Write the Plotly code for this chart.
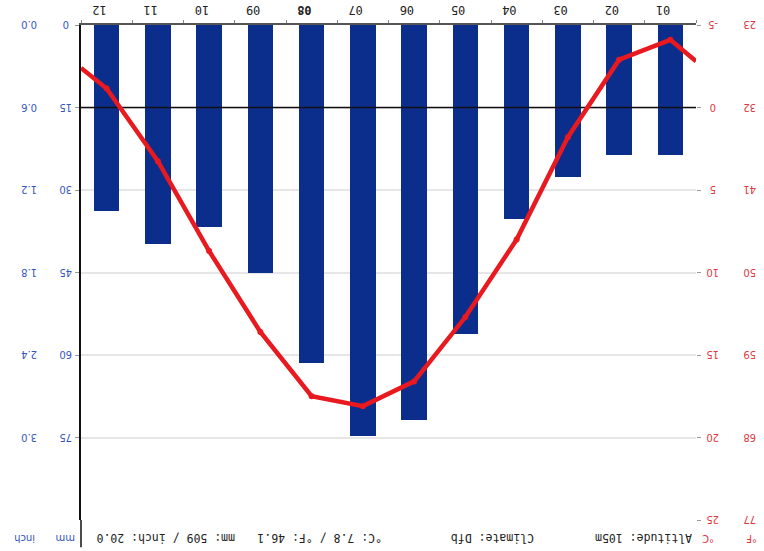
import plotly.graph_objects as go

# ---- data ----
months = ["01", "02", "03", "04", "05", "06", "07", "08", "09", "10", "11", "12"]
highlight_month = "08"
precip_mm = [23.6, 23.6, 27.7, 35.3, 56.1, 71.9, 74.8, 61.4, 45.0, 36.8, 39.8, 33.8]
temp_c = [-4.1, -2.9, 1.8, 8.0, 12.7, 16.6, 18.1, 17.5, 13.6, 8.7, 3.25, -1.15]
temp_edge_jan_side = -2.8   # where the line meets the Jan-side edge
temp_edge_dec_side = -2.4   # where the line meets the Dec-side edge

mm_ticks = [0, 15, 30, 45, 60, 75]
inch_ticklabels = ["0.0", "0.6", "1.2", "1.8", "2.4", "3.0"]
c_ticks = [-5, 0, 5, 10, 15, 20, 25]
f_ticklabels = [str(round(c * 9 / 5 + 32)) for c in c_ticks]

altitude = "105m"
climate = "Dfb"
annual_c, annual_f = "7.8", "46.1"
annual_mm, annual_inch = "509", "20.0"

# ---- styling ----
W, H = 764, 551
PL, PR, PT, PB = 81, 696, 25, 520
BLUE_BAR = "#0b2d8c"
RED = "#e8191f"
BLUE_TXT = "#3556c0"
RED_TXT = "#e0383f"

x_idx = list(range(1, 13))
fig = go.Figure()

fig.add_trace(go.Bar(x=x_idx, y=precip_mm, width=0.5, marker=dict(color=BLUE_BAR, line=dict(width=0)),
                     yaxis="y", xaxis="x", showlegend=False))

# zero °C reference line (drawn above bars, below the temperature line)
fig.add_trace(go.Scatter(x=[0.45, 12.55], y=[0, 0], mode="lines", line=dict(color="#111111", width=1.5),
                         yaxis="y2", showlegend=False, cliponaxis=False))

line_x = [0.5] + x_idx + [12.5]
line_y = [temp_edge_jan_side] + temp_c + [temp_edge_dec_side]
fig.add_trace(go.Scatter(x=line_x, y=line_y, mode="lines", line=dict(color=RED, width=4.5),
                         yaxis="y2", showlegend=False))
fig.add_trace(go.Scatter(x=x_idx, y=temp_c, mode="markers", marker=dict(color=RED, size=6),
                         yaxis="y2", showlegend=False))

dom = [PL / W, PR / W]
month_text = ["<b>%s</b>" % m if m == highlight_month else m for m in months]

fig.update_layout(
    width=W, height=H,
    margin=dict(l=0, r=0, t=PT, b=H - PB),
    paper_bgcolor="white", plot_bgcolor="white",
    bargap=0,
    xaxis=dict(domain=dom, range=[12.5, 0.5], side="top", tickvals=x_idx, ticktext=month_text,
               tickangle=180, ticks="", showgrid=False, zeroline=False,
               showline=True, linecolor="#555555", linewidth=1.5,
               tickfont=dict(family="DejaVu Sans Mono", size=12, color="#222222"),
               minor=dict(tickvals=[i + 0.5 for i in range(0, 13)], ticks="outside", ticklen=3,
                          tickcolor="#888888", showgrid=False)),
    yaxis=dict(range=[90, 0], tickvals=mm_ticks, showticklabels=False,
               showgrid=False, zeroline=False, showline=True, linecolor="#111111", linewidth=1.5,
               ticks="outside", ticklen=4, tickcolor="#999999", anchor="x"),
    yaxis2=dict(range=[25, -5], tickvals=c_ticks, showticklabels=False,
                overlaying="y", side="right", anchor="x", showgrid=True, gridcolor="#e6e6e6",
                gridwidth=1.5, zeroline=False, showline=False, ticks="outside", ticklen=4,
                tickcolor="#999999"),
)

# left axis line extends down to the info row
fig.add_shape(type="line", xref="x domain", yref="y domain", x0=0, x1=0, y0=0, y1=-0.055,
              line=dict(color="#111111", width=1.5))

tick_font_b = dict(family="DejaVu Sans", size=10, color=BLUE_TXT)
tick_font_r = dict(family="DejaVu Sans", size=10, color=RED_TXT)

# axis value labels, placed on the axes' own scales (upside-down like the reference)
for v, inch in zip(mm_ticks, inch_ticklabels):
    fig.add_annotation(xref="paper", yref="y", x=66 / W, y=v, text=str(v), showarrow=False,
                       textangle=180, font=tick_font_b, xanchor="center", yanchor="middle")
    fig.add_annotation(xref="paper", yref="y", x=29 / W, y=v, text=inch, showarrow=False,
                       textangle=180, font=tick_font_b, xanchor="center", yanchor="middle")
for v, f in zip(c_ticks, f_ticklabels):
    fig.add_annotation(xref="paper", yref="y2", x=713 / W, y=v, text=str(v), showarrow=False,
                       textangle=180, font=tick_font_r, xanchor="center", yanchor="middle")
    fig.add_annotation(xref="paper", yref="y2", x=750 / W, y=v, text=f, showarrow=False,
                       textangle=180, font=tick_font_r, xanchor="center", yanchor="middle")

row_y = -0.036
info_font = dict(family="DejaVu Sans Mono", size=11.5, color="#222222")
items = [
    (752 / W, "°F", dict(family="DejaVu Sans", size=10, color=RED_TXT)),
    (708 / W, "°C", dict(family="DejaVu Sans", size=10, color=RED_TXT)),
    (644 / W, "Altitude: " + altitude, info_font),
    (493 / W, "Climate: " + climate, info_font),
    (320 / W, "°C: " + annual_c + " / °F: " + annual_f, info_font),
    (166 / W, "mm: " + annual_mm + " / inch: " + annual_inch, info_font),
    (66 / W, "mm", dict(family="DejaVu Sans", size=10, color=BLUE_TXT)),
    (25 / W, "inch", dict(family="DejaVu Sans", size=10, color=BLUE_TXT)),
]
for xp, txt, fnt in items:
    fig.add_annotation(xref="paper", yref="paper", x=xp, y=row_y, text=txt, showarrow=False,
                       textangle=180, font=fnt, xanchor="center", yanchor="middle")

fig.write_html("out.html")
